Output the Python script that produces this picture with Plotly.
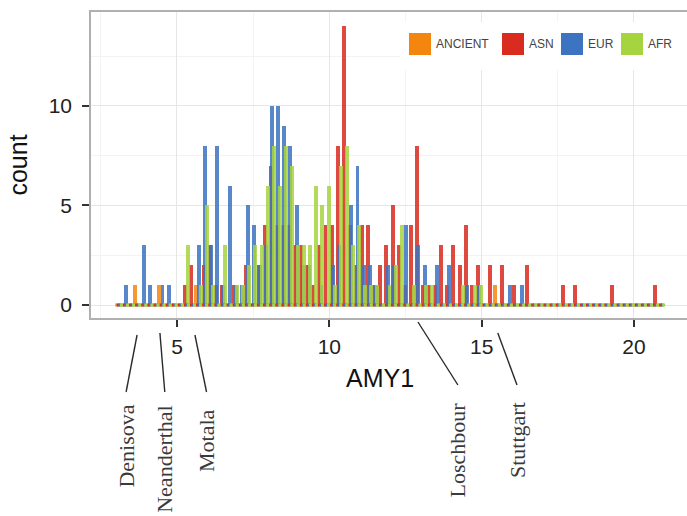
import numpy as np
import plotly.graph_objects as go

# ---------------- data ----------------
bin_width = 0.2
bin_centers = np.round(3.1 + bin_width * np.arange(90), 2)   # 3.1 ... 20.9

groups = ["ANCIENT", "ASN", "EUR", "AFR"]
colors = {"ANCIENT": "#f4860f", "ASN": "#d92b1f", "EUR": "#3c74c1", "AFR": "#a6d43e"}

ancient_x = [3.7, 4.5, 5.7, 12.9, 15.5]
ancient_n = [1, 1, 1, 1, 1]

asn_x = [5.3, 5.5, 5.9, 6.1, 6.3, 6.5, 6.9, 7.3, 7.7, 7.9,
         8.1, 8.3, 8.5, 8.7, 8.9, 9.1, 9.3, 9.5, 9.7, 9.9,
         10.1, 10.3, 10.5, 10.7, 10.9, 11.1, 11.3, 11.5, 11.7, 11.9,
         12.1, 12.3, 12.5, 12.7, 12.9, 13.1, 13.3, 13.5, 13.7, 13.9,
         14.1, 14.3, 14.5, 14.7, 14.9, 15.3, 15.7, 16.1, 16.5, 17.7,
         18.1, 19.3, 20.7]
asn_n = [1, 2, 2, 3, 1, 1, 1, 2, 2, 4,
         7, 4, 4, 4, 3, 3, 2, 1, 3, 4,
         4, 8, 14, 4, 2, 4, 4, 1, 2, 3,
         5, 3, 1, 4, 8, 1, 1, 1, 3, 1,
         3, 2, 4, 1, 2, 2, 2, 1, 2, 1,
         1, 1, 1]

eur_x = [3.3, 3.9, 4.1, 4.5, 4.7, 5.7, 5.9, 6.1, 6.3, 6.5,
         6.7, 6.9, 7.1, 7.3, 7.5, 7.7, 7.9, 8.1, 8.3, 8.5,
         8.7, 8.9, 9.1, 9.3, 9.7, 10.1, 10.3, 10.7, 10.9, 11.1,
         11.3, 11.5, 11.9, 12.1, 12.5, 12.9, 13.1, 13.5, 13.9, 14.5,
         14.9, 15.9, 16.3]
eur_n = [1, 3, 1, 1, 1, 3, 8, 3, 8, 1,
         6, 1, 1, 5, 4, 2, 3, 10, 10, 9,
         8, 5, 2, 2, 1, 2, 3, 5, 7, 2,
         2, 1, 2, 2, 4, 3, 2, 2, 2, 1,
         1, 1, 1]

afr_x = [5.3, 5.7, 5.9, 6.1, 6.5, 6.9, 7.1, 7.3, 7.5, 7.7,
         7.9, 8.1, 8.3, 8.5, 8.7, 8.9, 9.1, 9.3, 9.5, 9.7,
         9.9, 10.1, 10.3, 10.5, 10.7, 10.9, 11.1, 11.3, 11.5, 11.9,
         12.1, 12.3, 12.7, 13.1, 13.3, 14.3, 14.7, 14.9]
afr_n = [3, 1, 5, 1, 3, 1, 1, 2, 3, 3,
         6, 8, 6, 8, 7, 3, 3, 3, 6, 5,
         6, 1, 7, 8, 3, 4, 1, 1, 1, 1,
         2, 4, 1, 1, 1, 1, 1, 1]

series = {"ANCIENT": (ancient_x, ancient_n), "ASN": (asn_x, asn_n),
          "EUR": (eur_x, eur_n), "AFR": (afr_x, afr_n)}

# ancient samples annotated under the axis
anc_names = ["Denisova", "Neanderthal", "Motala", "Loschbour", "Stuttgart"]
anc_values = [3.69, 4.44, 5.59, 12.91, 15.53]
label_x = [3.33, 4.60, 5.97, 14.22, 16.16]

x_ticks = [5, 10, 15, 20]
y_ticks = [0, 5, 10]

# ---------------- figure ----------------
W, H = 687, 516
L, R, T, B = 91, 0, 12, 198
plot_w = W - L - R
plot_h = H - T - B


def py(p):  # pixel row -> paper y
    return (H - B - p) / plot_h


def px(p):  # pixel column -> paper x
    return (p - L) / plot_w


fig = go.Figure()

slot = bin_width / 4
bar_w = 0.13
for i, g in enumerate(groups):
    # baseline (empty bins drawn as thin outlines in the original)
    fig.add_trace(go.Scatter(
        x=bin_centers - bin_width / 2 + slot * (i + 0.5), y=np.zeros(len(bin_centers)),
        mode="markers", marker=dict(symbol="square", size=3, color=colors[g]),
        showlegend=False, hoverinfo="skip"))

for i, g in enumerate(groups):
    xs, ns = series[g]
    fig.add_trace(go.Bar(
        x=xs, y=ns, name=g, showlegend=False, opacity=0.85,
        offset=-bin_width / 2 + slot * (i + 0.5) - bar_w / 2, width=bar_w,
        marker=dict(color=colors[g], line=dict(width=0))))

# legend (ggplot-style, inside the panel at the top right)
fig.add_shape(type="rect", xref="paper", yref="paper",
              x0=px(400), x1=px(687), y0=py(70), y1=py(22),
              fillcolor="white", line=dict(width=0), layer="above")
leg_cx = [420, 513, 572, 632]
for g, cx in zip(groups, leg_cx):
    fig.add_shape(type="rect", xref="paper", yref="paper",
                  x0=px(cx - 11), x1=px(cx + 11), y0=py(55), y1=py(33),
                  fillcolor=colors[g], line=dict(width=0), layer="above")
    fig.add_annotation(x=px(cx + 14), y=py(44), xref="paper", yref="paper", text=g,
                       showarrow=False, xanchor="left", yanchor="middle",
                       font=dict(family="Liberation Sans", size=12, color="#444"))

# x-axis title
fig.add_annotation(x=px(380), y=py(378), xref="paper", yref="paper", text="AMY1",
                   showarrow=False, xanchor="center", yanchor="middle",
                   font=dict(family="Liberation Sans", size=25, color="#111"))

# annotation lines + labels
line_top = [335, 333, 335, 322, 333]
line_bot = [392, 392, 392, 385, 385]
text_top = [403, 403, 407, 400, 400]
for name, v, lx, t0, t1, tt in zip(anc_names, anc_values, label_x, line_top, line_bot, text_top):
    fig.add_shape(type="line", xref="x", yref="paper", x0=v, x1=lx,
                  y0=py(t0), y1=py(t1), line=dict(color="#2a2a2a", width=1.4))
    fig.add_annotation(x=lx, y=py(tt), xref="x", yref="paper", text=name,
                       textangle=-90, showarrow=False, xanchor="center", yanchor="top",
                       font=dict(family="Liberation Serif", size=22, color="#3a3a3a"))

axis_common = dict(
    showgrid=True, gridcolor="#e6e6e6", gridwidth=1.3,
    zeroline=False, showline=True, mirror=True, linecolor="#b0b0b0", linewidth=1.5,
    ticks="outside", ticklen=7, tickwidth=2, tickcolor="#333333",
    tickfont=dict(family="Liberation Sans", size=21, color="#222222"),
)

fig.update_layout(
    width=W, height=H, autosize=False,
    margin=dict(l=L, r=R, t=T, b=B, autoexpand=False),
    plot_bgcolor="white", paper_bgcolor="white",
    barmode="overlay", bargap=0, showlegend=False,
    xaxis=dict(range=[2.178, 21.74], tickvals=x_ticks,
               minor=dict(dtick=2.5, tick0=0, showgrid=True, gridcolor="#f3f3f3", ticks=""),
               ticklabelstandoff=2, **axis_common),
    yaxis=dict(range=[-0.653, 14.72], tickvals=y_ticks,
               minor=dict(dtick=2.5, tick0=0, showgrid=True, gridcolor="#f3f3f3", ticks=""),
               title=dict(text="count", font=dict(family="Liberation Sans", size=25, color="#111"),
                          standoff=14),
               ticklabelstandoff=6, **axis_common),
)

fig.write_html("out.html")
